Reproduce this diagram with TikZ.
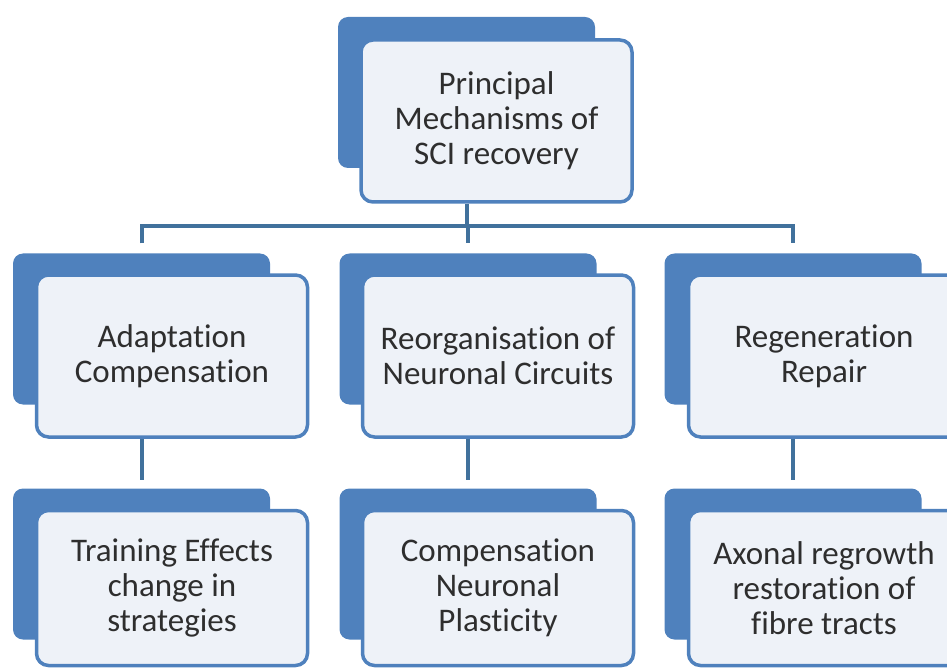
\documentclass[tikz,border=0pt]{standalone}
\usepackage{fontspec}
\setmainfont{Carlito}[Ligatures=NoCommon]
\definecolor{smblue}{HTML}{4F81BD}
\definecolor{smline}{HTML}{41719C}
\definecolor{smfill}{HTML}{EEF2F8}
\definecolor{smtext}{HTML}{2E2E2E}
\tikzset{
  backbox/.style={fill=smblue, draw=none, rounded corners=10pt, minimum width=257pt, minimum height=151pt},
  cardbox/.style={fill=smfill, draw=smblue, line width=3.5pt, rounded corners=12pt, minimum width=271pt, minimum height=162pt, align=center, text=smtext, font=\fontsize{33}{35}\selectfont},
  link/.style={draw=smline, line width=4pt}
}
\begin{document}
\begin{tikzpicture}[x=1pt, y=-1pt]
    \useasboundingbox (0,0) rectangle (947,668);
    \clip (0,0) rectangle (947,668);
    \node[backbox] (topback) at (466.5,92.5) {};
    \node[cardbox] (topcard) at (496.5,121) {Principal\\Mechanisms of\\SCI recovery};
    \node[backbox] (adaptback) at (141.5,329) {};
    \node[backbox] (reorgback) at (468,329) {};
    \node[backbox] (regenback) at (793,329) {};
    \node[cardbox] (adaptcard) at (172,356) {Adaptation\\Compensation};
    \node[cardbox] (reorgcard) at (498,356) {Reorganisation of\\Neuronal Circuits};
    \node[cardbox] (regencard) at (824,356) {Regeneration\\Repair};
    \node[backbox] (trainback) at (141.5,564) {};
    \node[backbox] (plastback) at (468,564) {};
    \node[backbox] (axonback) at (793,564) {};
    \node[cardbox, minimum height=155pt] (traincard) at (172,588) {Training Effects\\change in\\strategies};
    \node[cardbox, minimum height=155pt] (plastcard) at (498,588) {Compensation\\Neuronal\\Plasticity};
    \node[cardbox, minimum height=155pt] (axoncard) at (824,588) {Axonal regrowth\\restoration of\\fibre tracts};
    \coordinate (bus) at (0,226);
    \draw[link] (topback |- topcard.south) -- (topback |- bus);
    \draw[link] ([yshift=10pt]adaptback.north) |- (bus -| regenback.north) -- ([yshift=10pt]regenback.north);
    \draw[link] (bus -| reorgback.north) -- ([yshift=10pt]reorgback.north);
    \draw[link] (adaptback |- adaptcard.south) -- ([yshift=8pt]trainback.north);
    \draw[link] (reorgback |- reorgcard.south) -- ([yshift=8pt]plastback.north);
    \draw[link] (regenback |- regencard.south) -- ([yshift=8pt]axonback.north);
\end{tikzpicture}
\end{document}
